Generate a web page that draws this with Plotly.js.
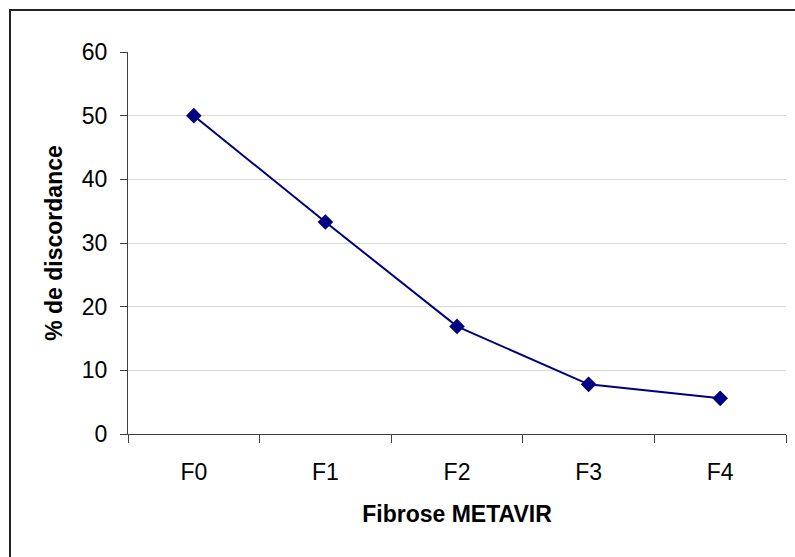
<!DOCTYPE html>
<html>
<head>
<meta charset="utf-8">
<script src="https://cdn.plot.ly/plotly-3.0.1.min.js"></script>
<style>html,body{margin:0;padding:0;background:#fff;}#chart{width:795px;height:557px;}</style>
</head>
<body>
<div id="chart"></div>
<script>
const categories = ["F0", "F1", "F2", "F3", "F4"];
const discordance = [50, 33.3, 16.9, 7.8, 5.6];
const yTicks = [0, 10, 20, 30, 40, 50, 60];

const W = 795, H = 557;
const m = {l: 128, r: 9, t: 52, b: 123};
const pw = W - m.l - m.r, ph = H - m.t - m.b;
const px = v => (v - m.l) / pw;
const py = v => 1 - (v - m.t) / ph;

const trace = {
  x: categories,
  y: discordance,
  type: 'scatter',
  mode: 'lines+markers',
  line: {color: '#000080', width: 2},
  marker: {symbol: 'diamond', size: 12, color: '#000080'},
  cliponaxis: false,
  hoverinfo: 'x+y'
};

const layout = {
  width: W, height: H,
  margin: m,
  paper_bgcolor: '#ffffff',
  plot_bgcolor: '#ffffff',
  showlegend: false,
  font: {family: 'Liberation Sans, Arial, sans-serif', color: '#000'},
  xaxis: {
    type: 'category',
    range: [-0.5, 4.5],
    tickson: 'boundaries',
    ticks: 'outside',
    ticklen: 8,
    tickcolor: '#404040',
    tickwidth: 1,
    showline: true,
    linecolor: '#404040',
    linewidth: 1,
    showgrid: false,
    zeroline: false,
    tickfont: {size: 23, color: '#000'},
    ticklabelstandoff: 17,
    title: {text: '<b>Fibrose METAVIR</b>', font: {size: 23, color: '#000'}, standoff: 22}
  },
  yaxis: {
    range: [0, 60],
    tickvals: yTicks,
    ticks: 'outside',
    ticklen: 7,
    tickcolor: '#404040',
    tickwidth: 1,
    showline: true,
    linecolor: '#404040',
    linewidth: 1,
    showgrid: true,
    gridcolor: '#d9d9d9',
    gridwidth: 1,
    zeroline: false,
    tickfont: {size: 23, color: '#000'},
    ticklabelstandoff: 8,
    title: {text: '<b>% de discordance</b>', font: {size: 23, color: '#000'}, standoff: 12}
  },
  shapes: [
    {type: 'line', xref: 'paper', yref: 'paper', x0: px(10), x1: px(10), y0: py(10), y1: py(570),
     line: {color: '#222', width: 2}},
    {type: 'line', xref: 'paper', yref: 'paper', x0: px(9), x1: px(810), y0: py(10), y1: py(10),
     line: {color: '#222', width: 2}}
  ]
};

Plotly.newPlot('chart', [trace], layout, {displayModeBar: false, staticPlot: true});
</script>
</body>
</html>
